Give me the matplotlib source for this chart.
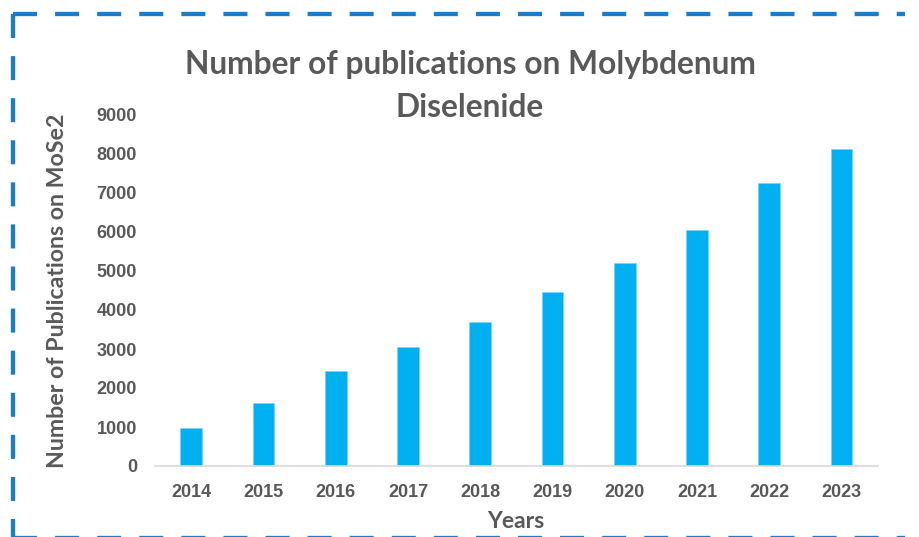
import matplotlib
matplotlib.use('Agg')
import matplotlib.pyplot as plt
from matplotlib.lines import Line2D

years = ['2014', '2015', '2016', '2017', '2018', '2019', '2020', '2021', '2022', '2023']
pubs = [970, 1610, 2440, 3045, 3700, 4455, 5215, 6060, 7265, 8130]
yticks = [0, 1000, 2000, 3000, 4000, 5000, 6000, 7000, 8000, 9000]

W, H = 920, 537
txt = '#595959'
bar_col = '#00B0F0'
border_col = '#1C7CC9'

plt.rcParams['lines.scale_dashes'] = False

fig = plt.figure(figsize=(W / 100, H / 100), dpi=100)
ax = fig.add_axes([155 / W, 1 - 466 / H, 722.7 / W, 351 / H])

x = range(len(years))
ax.bar(x, pubs, width=0.30, color=bar_col, edgecolor='#7fd3f5', linewidth=0.6)
ax.set_xlim(-0.5, len(years) - 0.5)
ax.set_ylim(0, 9000)
ax.set_yticks(yticks)
ax.set_yticklabels([str(v) for v in yticks])
ax.set_xticks(list(x))
ax.set_xticklabels(years)

for s in ['top', 'right', 'left']:
    ax.spines[s].set_visible(False)
ax.spines['bottom'].set_color('#D9D9D9')
ax.spines['bottom'].set_linewidth(1.2)
ax.tick_params(axis='both', length=0, colors=txt, labelsize=13)
ax.tick_params(axis='y', pad=13)
ax.tick_params(axis='x', pad=13)
for lab in ax.get_xticklabels() + ax.get_yticklabels():
    lab.set_fontweight('bold')
    lab.set_family('Liberation Sans')

# title and axis labels
fig.text(470 / W, 1 - 86 / H, 'Number of publications on Molybdenum\nDiselenide',
         ha='center', va='center', fontsize=22.9, fontweight='bold', color=txt,
         family='Lato', linespacing=1.61)
fig.text(58 / W, 1 - 291 / H, 'Number of Publications on MoSe2', rotation=90,
         ha='center', va='center', fontsize=16.7, fontweight='bold', color=txt, family='Lato')
fig.text(516 / W, 1 - 521 / H, 'Years', ha='center', va='center',
         fontsize=16.5, fontweight='bold', color=txt, family='Lato')

# dashed frame around the figure
lw = 3.1
dash = (0, (17.3, 13))
fig.add_artist(Line2D([13 / W, 905 / W], [1 - 14 / H, 1 - 14 / H], transform=fig.transFigure,
                      color=border_col, lw=lw, linestyle=dash))
fig.add_artist(Line2D([13 / W, 13 / W], [1 - 14 / H, 0], transform=fig.transFigure,
                      color=border_col, lw=lw, linestyle=dash))
fig.add_artist(Line2D([13 / W, 905 / W], [1 - 538 / H, 1 - 538 / H], transform=fig.transFigure,
                      color=border_col, lw=lw, linestyle=dash))

fig.savefig('out.png', dpi=100)
